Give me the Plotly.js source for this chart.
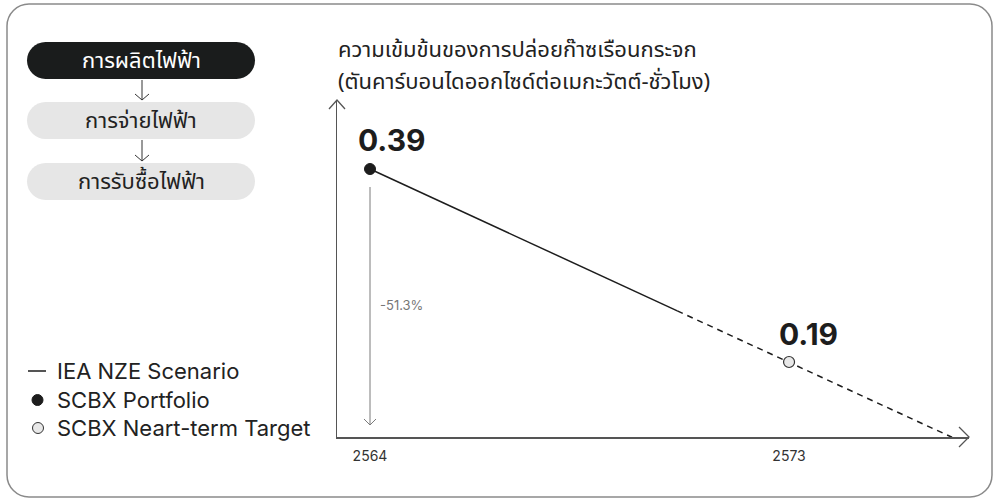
<!DOCTYPE html>
<html>
<head>
<meta charset="utf-8">
<script src="https://cdn.plot.ly/plotly-3.0.1.min.js"></script>
<style>html,body{margin:0;padding:0;background:#fff;}#chart{width:993px;height:502px;}</style>
</head>
<body>
<div id="chart"></div>
<script>
// ---- data ----
const years = [2564, 2573];
const yearLabels = ['2564', '2573'];
const pointValues = [0.39, 0.19];
const pointLabels = ['0.39', '0.19'];
const solidYears = [2564, 2570.6];
const solidValues = [0.39, 0.243];
const dashYears = [2570.6, 2576.5];
const dashValues = [0.243, 0.112];
const changeLabel = '-51.3%';
const stages = ['การผลิตไฟฟ้า', 'การจ่ายไฟฟ้า', 'การรับซื้อไฟฟ้า'];
const legendLabels = ['IEA NZE Scenario', 'SCBX Portfolio', 'SCBX Neart-term Target'];
const titleLines = ['ความเข้มข้นของการปล่อยก๊าซเรือนกระจก', '(ตันคาร์บอนไดออกไซด์ต่อเมกะวัตต์-ชั่วโมง)'];

// ---- geometry helpers (pixel -> paper) ----
const W = 993, H = 502;
const M = {l: 337, r: 24, t: 100, b: 65};
const PW = W - M.l - M.r, PH = H - M.t - M.b;
const px = x => (x - M.l) / PW;
const py = y => (H - M.b - y) / PH;
const P = (x, y) => px(x).toFixed(5) + ',' + py(y).toFixed(5);
function roundRect(x0, y0, x1, y1, r) {
  const k = 0.5523 * r;
  return 'M' + P(x0 + r, y0) + ' L' + P(x1 - r, y0) +
    ' C' + P(x1 - r + k, y0) + ' ' + P(x1, y0 + r - k) + ' ' + P(x1, y0 + r) +
    ' L' + P(x1, y1 - r) +
    ' C' + P(x1, y1 - r + k) + ' ' + P(x1 - r + k, y1) + ' ' + P(x1 - r, y1) +
    ' L' + P(x0 + r, y1) +
    ' C' + P(x0 + r - k, y1) + ' ' + P(x0, y1 - r + k) + ' ' + P(x0, y1 - r) +
    ' L' + P(x0, y0 + r) +
    ' C' + P(x0, y0 + r - k) + ' ' + P(x0 + r - k, y0) + ' ' + P(x0 + r, y0) + ' Z';
}
const FONT = "Inter, 'Noto Sans Thai', 'Noto Sans', 'DejaVu Sans', sans-serif";
const THAI = "'Noto Sans Thai', Inter, 'Noto Sans', sans-serif";
const dark = '#1d1d1d';

const shapes = [];
const annotations = [];

// outer rounded border
shapes.push({type: 'path', xref: 'paper', yref: 'paper', path: roundRect(7, 4, 992, 497, 22),
  line: {color: '#8a8a8a', width: 1.5}, fillcolor: 'rgba(0,0,0,0)', layer: 'below'});

// stage pills
const pillTop = [42, 102, 163], pillH = 37;
stages.forEach((s, i) => {
  const y0 = pillTop[i], y1 = y0 + pillH;
  shapes.push({type: 'path', xref: 'paper', yref: 'paper', path: roundRect(27, y0, 255, y1, pillH / 2),
    line: {width: 0}, fillcolor: i === 0 ? '#1a1c1c' : '#e6e6e6', layer: 'below'});
  annotations.push({xref: 'paper', yref: 'paper', x: px(141), y: py((y0 + y1) / 2 + 1), text: s, showarrow: false,
    xanchor: 'center', yanchor: 'middle', font: {family: THAI, size: 22, weight: 400, color: i === 0 ? '#ffffff' : '#222'}});
  if (i < stages.length - 1) {
    const a0 = y1 + 1, a1 = pillTop[i + 1] - 2;
    shapes.push({type: 'path', xref: 'paper', yref: 'paper',
      path: 'M' + P(142, a0) + ' L' + P(142, a1) + ' M' + P(135, a1 - 6) + ' L' + P(142, a1) + ' L' + P(149, a1 - 6),
      line: {color: '#333', width: 1}});
  }
});

// legend
const legY = [371, 400, 428];
shapes.push({type: 'line', xref: 'paper', yref: 'paper', x0: px(28), x1: px(46), y0: py(legY[0]), y1: py(legY[0]),
  line: {color: dark, width: 1.5}});
shapes.push({type: 'circle', xref: 'paper', yref: 'paper', x0: px(32), x1: px(43), y0: py(legY[1] - 5.5), y1: py(legY[1] + 5.5),
  line: {color: dark, width: 1}, fillcolor: dark});
shapes.push({type: 'circle', xref: 'paper', yref: 'paper', x0: px(32.5), x1: px(43.5), y0: py(legY[2] - 5.5), y1: py(legY[2] + 5.5),
  line: {color: '#333', width: 1}, fillcolor: '#e8e8e8'});
legendLabels.forEach((t, i) => {
  annotations.push({xref: 'paper', yref: 'paper', x: px(55), y: py(legY[i]), text: t, showarrow: false,
    xanchor: 'left', yanchor: 'middle', font: {family: FONT, size: 22, color: '#222'}});
});

// title (two lines)
titleLines.forEach((t, i) => {
  annotations.push({xref: 'paper', yref: 'paper', x: px(336), y: py(51 + i * 32), text: t, showarrow: false,
    xanchor: 'left', yanchor: 'middle', font: {family: THAI, size: 22, weight: 400, color: '#222'}});
});

// axis arrow heads
shapes.push({type: 'path', xref: 'paper', yref: 'paper',
  path: 'M' + P(329, 109) + ' L' + P(337, 100) + ' L' + P(345, 109), line: {color: '#555', width: 1.3}});
shapes.push({type: 'path', xref: 'paper', yref: 'paper',
  path: 'M' + P(959, 427) + ' L' + P(969, 437) + ' L' + P(959, 447), line: {color: '#555', width: 1.3}});

// change arrow (from first point down to the axis)
shapes.push({type: 'line', xref: 'x', yref: 'paper', x0: years[0], x1: years[0], y0: py(187), y1: py(425),
  line: {color: '#7a7a7a', width: 1}});
shapes.push({type: 'path', xref: 'paper', yref: 'paper',
  path: 'M' + P(364, 419) + ' L' + P(370, 425) + ' L' + P(376, 419), line: {color: '#7a7a7a', width: 1}});
annotations.push({xref: 'x', yref: 'paper', x: years[0], y: py(305), xshift: 8, text: changeLabel, showarrow: false,
  xanchor: 'left', yanchor: 'middle', font: {family: FONT, size: 13, color: '#777'}});

// value labels
const labelShift = [[22, 29], [19, 28]];
pointLabels.forEach((t, i) => {
  annotations.push({x: years[i], y: pointValues[i], xref: 'x', yref: 'y', text: '<b>' + t + '</b>', showarrow: false,
    xshift: labelShift[i][0], yshift: labelShift[i][1], xanchor: 'center', yanchor: 'middle',
    font: {family: FONT, size: 30, color: dark}});
});

const traces = [
  {x: solidYears, y: solidValues, mode: 'lines', line: {color: dark, width: 1.5}, hoverinfo: 'skip'},
  {x: dashYears, y: dashValues, mode: 'lines', line: {color: dark, width: 1.5, dash: '6px,5px'}, hoverinfo: 'skip'},
  {x: [years[0]], y: [pointValues[0]], mode: 'markers',
    marker: {size: 11, color: dark, line: {color: dark, width: 1}}, hoverinfo: 'skip'},
  {x: [years[1]], y: [pointValues[1]], mode: 'markers',
    marker: {size: 11, color: '#e8e8e8', line: {color: '#333', width: 1.2}}, hoverinfo: 'skip'}
];

const layout = {
  width: W, height: H,
  margin: M,
  paper_bgcolor: '#fff', plot_bgcolor: '#fff',
  showlegend: false, hovermode: false,
  font: {family: FONT, color: '#222'},
  xaxis: {range: [2563.291, 2576.865], showline: true, linecolor: '#555', linewidth: 1.5,
    tickvals: years, ticktext: yearLabels, ticks: '', ticklabelstandoff: 6, showgrid: false, zeroline: false,
    tickfont: {family: FONT, size: 14, color: '#333'}, fixedrange: true},
  yaxis: {range: [0.1123, 0.4615], showline: true, linecolor: '#555', linewidth: 1.5,
    showticklabels: false, ticks: '', showgrid: false, zeroline: false, fixedrange: true},
  shapes: shapes,
  annotations: annotations
};

Plotly.newPlot('chart', traces, layout, {displayModeBar: false, staticPlot: true});
</script>
</body>
</html>
